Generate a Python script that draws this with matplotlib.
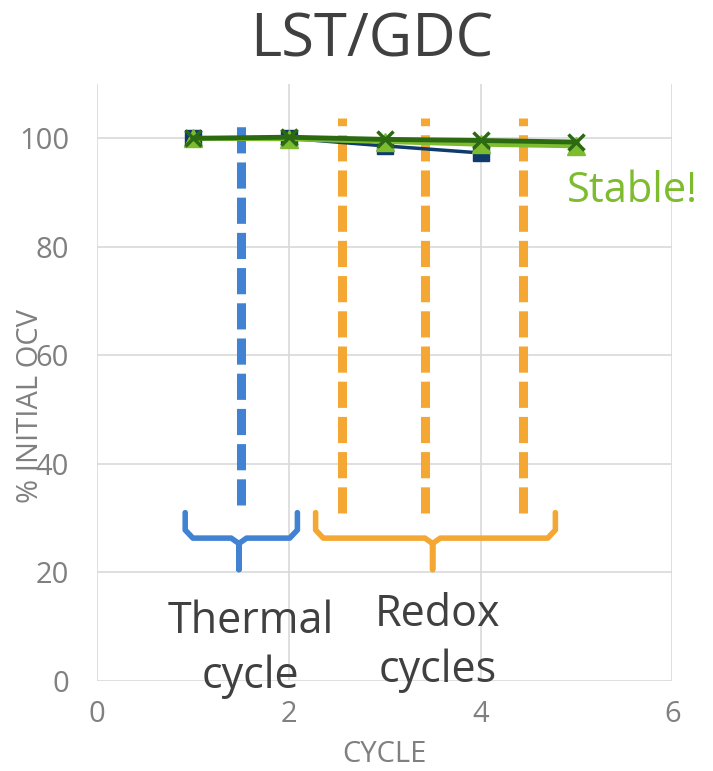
import matplotlib
matplotlib.use("Agg")
import matplotlib.pyplot as plt

# Percentage of initial open-circuit voltage per cycle, LST/GDC cells
cycles_a = [1, 2, 3, 4]
ocv_a = [100.0, 100.0, 98.6, 97.3]
cycles_b = [1, 2, 3, 4, 5]
ocv_b = [100.0, 99.9, 99.4, 98.9, 98.6]
cycles_c = [1, 2, 3, 4, 5]
ocv_c = [100.0, 100.2, 99.8, 99.6, 99.3]

x_ticks = [0, 2, 4, 6]
y_ticks = [0, 20, 40, 60, 80, 100]

# Positions of the cycle markers (thermal, then redox)
thermal_marks = [1.5]
redox_marks = [2.56, 3.42, 4.44]

NAVY = "#0F3A6C"
LIGHT_GREEN = "#7DBB2F"
DARK_GREEN = "#2C6A12"
BLUE = "#4282D3"
ORANGE = "#F4A833"
GRAY = "#808080"
DARK = "#404040"

plt.rcParams["font.family"] = ["Open Sans", "DejaVu Sans"]

fig = plt.figure(figsize=(7.13, 7.71), dpi=100)
ax = fig.add_axes([0.136, 0.117, 0.807, 0.774])

ax.set_xlim(0, 6)
ax.set_ylim(0, 110)
ax.set_xticks(x_ticks)
ax.set_yticks(y_ticks)
ax.grid(True, color="#D9D9D9", linewidth=1.2)
ax.set_axisbelow(True)
for s in ax.spines.values():
    s.set_visible(False)
ax.tick_params(length=0, labelsize=21, labelcolor=GRAY)
ax.tick_params(axis="x", pad=14)
ax.tick_params(axis="y", pad=20)

ax.plot(cycles_a, ocv_a, color=NAVY, lw=2.5, marker="s", ms=12, zorder=3)
ax.plot(cycles_b, ocv_b, color=LIGHT_GREEN, lw=3.5, marker="^", ms=13, zorder=4)
ax.plot(cycles_c, ocv_c, color=DARK_GREEN, lw=3.5, marker="x", ms=12, mew=2.5, zorder=5)

dash = (0, (2.9, 1.0))
for xm in thermal_marks:
    ax.plot([xm, xm], [32.4, 103.7], color=BLUE, lw=6.5, linestyle=dash,
            solid_capstyle="butt", dash_capstyle="butt", zorder=2, clip_on=False)
for xm in redox_marks:
    ax.plot([xm, xm], [31.0, 103.7], color=ORANGE, lw=6.5, linestyle=dash,
            solid_capstyle="butt", dash_capstyle="butt", zorder=2, clip_on=False)


def brace(x0, x1, xmid, color):
    top, mid, tip = 31.0, 26.3, 20.5
    r = 0.08
    xs = [x0, x0, x0 + r, xmid - r, xmid, xmid, xmid, xmid + r, x1 - r, x1, x1]
    ys = [top, mid + 1.5, mid, mid, mid - 1.0, tip, mid - 1.0, mid, mid, mid + 1.5, top]
    ax.plot(xs, ys, color=color, lw=4, solid_joinstyle="round",
            solid_capstyle="round", zorder=2, clip_on=False)


brace(0.92, 2.09, 1.48, BLUE)
brace(2.28, 4.78, 3.5, ORANGE)

ax.text(1.6, 5.8, "Thermal\ncycle", ha="center", va="center", fontsize=31,
        color=DARK, linespacing=1.32, zorder=6)
ax.text(3.55, 7.0, "Redox\ncycles", ha="center", va="center", fontsize=31,
        color=DARK, linespacing=1.32, zorder=6)
ax.text(4.9, 90.3, "Stable!", ha="left", va="center", fontsize=30,
        color=LIGHT_GREEN, clip_on=False, zorder=6)

ax.set_xlabel("CYCLE", fontsize=21, color=GRAY, labelpad=8)
ax.set_ylabel("% INITIAL OCV", fontsize=21, color=GRAY)
ax.yaxis.set_label_coords(-0.09, 0.46)

fig.text(0.522, 0.947, "LST/GDC", ha="center", va="center", fontsize=43, color=DARK)

fig.savefig("out.png", dpi=100)
